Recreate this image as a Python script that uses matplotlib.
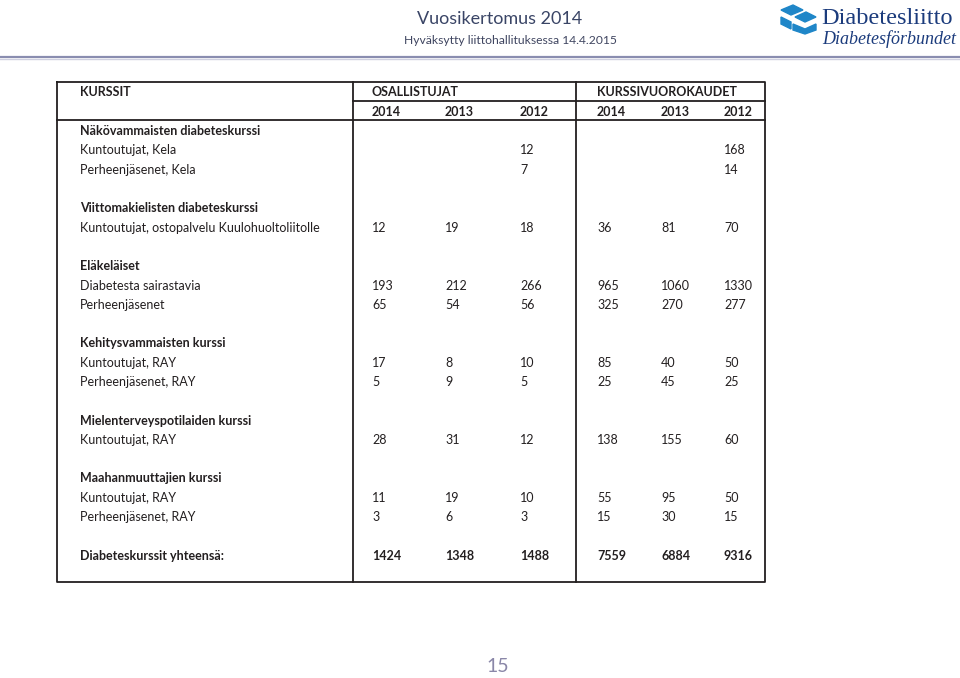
import matplotlib
matplotlib.use('Agg')
import matplotlib.pyplot as plt
from matplotlib.patches import Polygon

plt.rcParams['font.family'] = ['Lato', 'DejaVu Sans']

# otsikot
title = 'Vuosikertomus 2014'
subtitle = 'Hyväksytty liittohallituksessa 14.4.2015'
page_no = '15'
years = ['2014', '2013', '2012']

# taulukon rivit
row_labels = [
    'Näkövammaisten diabeteskurssi', 'Kuntoutujat, Kela', 'Perheenjäsenet, Kela', '',
    'Viittomakielisten diabeteskurssi', 'Kuntoutujat, ostopalvelu Kuulohuoltoliitolle', '',
    'Eläkeläiset', 'Diabetesta sairastavia', 'Perheenjäsenet', '',
    'Kehitysvammaisten kurssi', 'Kuntoutujat, RAY', 'Perheenjäsenet, RAY', '',
    'Mielenterveyspotilaiden kurssi', 'Kuntoutujat, RAY', '',
    'Maahanmuuttajien kurssi', 'Kuntoutujat, RAY', 'Perheenjäsenet, RAY', '',
    'Diabeteskurssit yhteensä:',
]
bold_rows = [0, 4, 7, 11, 15, 18, 22]

# osallistujat
os_2014 = [None, None, None, None, None, 12, None, None, 193, 65, None, None, 17, 5, None, None, 28, None, None, 11, 3, None, 1424]
os_2013 = [None, None, None, None, None, 19, None, None, 212, 54, None, None, 8, 9, None, None, 31, None, None, 19, 6, None, 1348]
os_2012 = [None, 12, 7, None, None, 18, None, None, 266, 56, None, None, 10, 5, None, None, 12, None, None, 10, 3, None, 1488]
# kurssivuorokaudet
kv_2014 = [None, None, None, None, None, 36, None, None, 965, 325, None, None, 85, 25, None, None, 138, None, None, 55, 15, None, 7559]
kv_2013 = [None, None, None, None, None, 81, None, None, 1060, 270, None, None, 40, 45, None, None, 155, None, None, 95, 30, None, 6884]
kv_2012 = [None, 168, 14, None, None, 70, None, None, 1330, 277, None, None, 50, 25, None, None, 60, None, None, 50, 15, None, 9316]

columns = [os_2014, os_2013, os_2012, kv_2014, kv_2013, kv_2012]
col_x = [372, 445, 520, 597, 661, 724]

fig = plt.figure(figsize=(9.6, 6.78), dpi=100)
ax = fig.add_axes([0, 0, 1, 1])
ax.set_xlim(0, 960)
ax.set_ylim(678, 0)
ax.axis('off')

txt = '#231f20'
fs = 9

# sivun ylätunniste
ax.text(500, 19, title, fontsize=13, color='#3a4566', ha='center', va='center')
ax.text(510, 41, subtitle, fontsize=8.7, color='#3f4560', ha='center', va='center')
ax.plot([0, 960], [57, 57], color='#8a8db0', lw=1.6)
ax.plot([0, 960], [59, 59], color='#cfd0e0', lw=1.0)

# logo
blue = '#1f86c8'
ax.add_patch(Polygon([[781, 10], [793, 5], [803, 10], [791, 15]], color=blue))
ax.add_patch(Polygon([[795, 17], [806, 12], [816, 17], [805, 22]], color=blue))
ax.add_patch(Polygon([[781, 17], [791, 22], [791, 29], [781, 24]], color=blue))
ax.add_patch(Polygon([[793, 24], [805, 29], [816, 24], [816, 30], [805, 34], [793, 30]], color=blue))
ax.text(887, 18, 'Diabetesliitto', fontsize=17.5, color='#1b3b7c', ha='center', va='center',
        family=['Liberation Serif', 'DejaVu Serif'])
ax.text(889, 39, 'Diabetesförbundet', fontsize=13, color='#1b3b7c', ha='center', va='center',
        style='italic', family=['Liberation Serif', 'DejaVu Serif'])

# taulukon kehys
L, R, T, B = 57, 765, 82, 582
V1, V2 = 353, 576
lw = 1.3
ax.plot([L, R, R, L, L], [T, T, B, B, T], color=txt, lw=lw)
ax.plot([V1, V1], [T, B], color=txt, lw=lw)
ax.plot([V2, V2], [T, B], color=txt, lw=lw)
ax.plot([V1, R], [101, 101], color=txt, lw=lw)
ax.plot([L, R], [120, 120], color=txt, lw=lw)

y0 = 92.5
dy = 19.3

ax.text(80, y0, 'KURSSIT', fontsize=fs, fontweight='bold', color=txt, va='center')
ax.text(col_x[0], y0, 'OSALLISTUJAT', fontsize=fs, fontweight='bold', color=txt, va='center')
ax.text(col_x[3], y0, 'KURSSIVUOROKAUDET', fontsize=fs, fontweight='bold', color=txt, va='center')
for i, x in enumerate(col_x):
    ax.text(x, y0 + dy, years[i % 3], fontsize=fs, fontweight='bold', color=txt, va='center')

for r, label in enumerate(row_labels):
    y = y0 + (r + 2) * dy
    w = 'bold' if r in bold_rows else 'normal'
    ax.text(80, y, label, fontsize=fs, fontweight=w, color=txt, va='center')
    for c, col in enumerate(columns):
        v = col[r]
        if v is not None:
            ax.text(col_x[c], y, str(v), fontsize=fs, fontweight=w, color=txt, va='center')

ax.text(498, 667, page_no, fontsize=14, color='#8a87a8', ha='center', va='center')

fig.savefig('out.png', dpi=100)
